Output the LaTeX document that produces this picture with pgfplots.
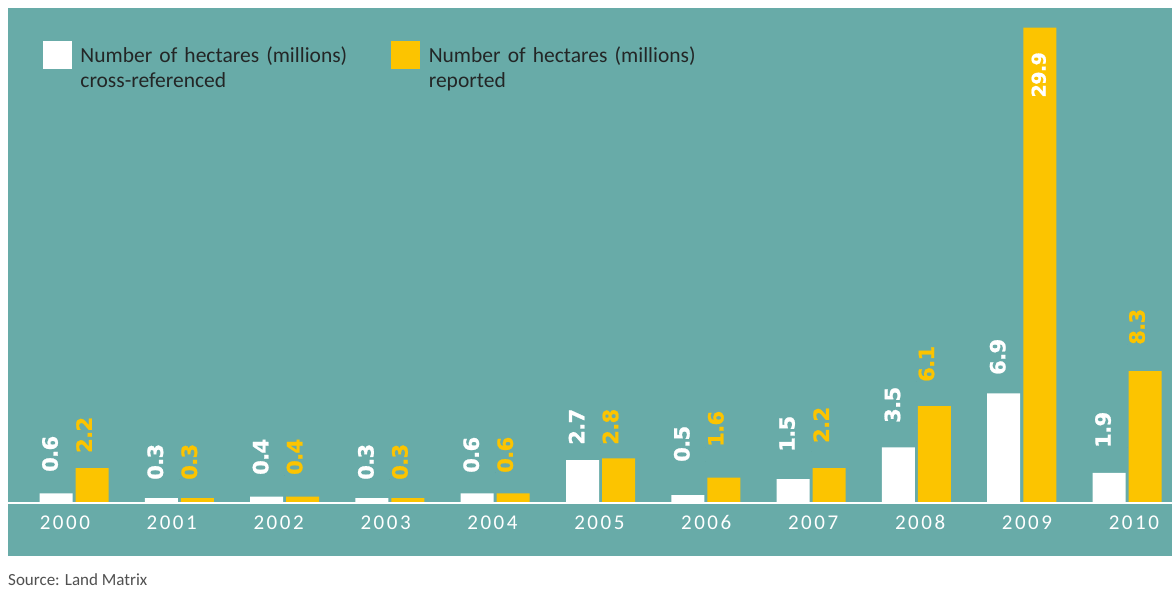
\documentclass[border=0pt]{standalone}
\usepackage{fontspec}
\setmainfont{Carlito}
\newfontfamily\valfont[LetterSpace=-3, FakeBold=1]{DejaVu Sans}
\newfontfamily\yearfont[LetterSpace=12]{Carlito}
\usepackage{pgfplots}
\pgfplotsset{compat=1.18}
\usepackage{pgfplotstable}
\definecolor{teal1}{RGB}{104,171,168}
\definecolor{gold}{RGB}{252,196,0}
\definecolor{legtext}{RGB}{35,38,38}
\definecolor{srcgray}{RGB}{80,80,80}

\pgfplotstableread{
idx w y
0 0.6 2.2
1 0.3 0.3
2 0.4 0.4
3 0.3 0.3
4 0.6 0.6
5 2.7 2.8
6 0.5 1.6
7 1.5 2.2
8 3.5 6.1
9 6.9 29.9
10 1.9 8.3
}\bars

\pgfplotstableread{
idx pos lbl
0 1.95 0.6
1 1.45 0.3
2 1.76 0.4
3 1.45 0.3
4 1.89 0.6
5 3.65 2.7
6 2.58 0.5
7 3.21 1.5
8 5.03 3.5
9 8.05 6.9
10 3.46 1.9
}\wlabels

\pgfplotstableread{
idx pos lbl
0 3.14 2.2
1 1.45 0.3
2 1.76 0.4
3 1.45 0.3
4 1.89 0.6
5 3.65 2.8
6 3.52 1.6
7 3.77 2.2
8 7.61 6.1
10 9.94 8.3
}\ylabels

\pgfplotstableread{
idx pos lbl
9 28.36 29.9
}\ylabelin

\begin{document}
\begin{tikzpicture}
\fill[white, use as bounding box] (0,0) rectangle (1172pt,590pt);
\begin{axis}[
  at={(8pt,34pt)}, anchor=south west,
  width=1164pt, height=548pt, scale only axis,
  xmin=-0.627, xmax=10.427, ymin=-3.333, ymax=31.13,
  axis background/.style={fill=teal1},
  axis line style={draw=none},
  ytick=\empty,
  xtick={-0.076,0.939,1.954,2.970,3.985,5.000,6.015,7.030,8.046,9.061,10.076},
  xticklabels={2000,2001,2002,2003,2004,2005,2006,2007,2008,2009,2010},
  major tick length=0pt,
  xticklabel style={anchor=center, yshift=33pt, xshift=-1.2pt, text=white,
    text height=13.3pt, text depth=0pt,
    font=\yearfont\fontsize{21}{22}\selectfont},
  clip=false,
  legend style={at={(0.03007,0.9398)}, anchor=north west, draw=none, fill=none,
    inner sep=0pt, outer sep=0pt, legend columns=2,
    font=\fontsize{21.5}{25}\selectfont, text=legtext,
    nodes={inner sep=0pt, text width=311pt, align=left},
    /tikz/every odd column/.append style={column sep=9pt},
    /tikz/every even column/.append style={column sep=0pt},
    cells={align=left}},
  legend cell align=left,
]
\addlegendimage{legend image code/.code={\fill[white] (0pt,-13pt) rectangle (28pt,14pt);}}
\addlegendentry{Number of hectares (millions)\\cross-referenced}
\addlegendimage{legend image code/.code={\fill[gold] (0pt,-13pt) rectangle (28pt,14pt);}}
\addlegendentry{Number of hectares (millions)\\reported}

\addplot[forget plot, ybar, bar width=0.3134, bar shift=-0.171, fill=white, draw=none]
  table[x=idx, y=w] {\bars};
\addplot[forget plot, ybar, bar width=0.3134, bar shift=0.171, fill=gold, draw=none]
  table[x=idx, y=y] {\bars};

\draw[white, line width=2.5pt] (axis cs:-0.627,0) -- (axis cs:10.427,0);

\addplot[forget plot, only marks, mark=*, mark size=0pt, mark options={draw=none, fill=none},
  point meta=explicit symbolic, nodes near coords,
  nodes near coords style={xshift=-24pt, rotate=90, anchor=west, inner sep=0pt,
    text=white, font=\valfont\bfseries\fontsize{21}{22}\selectfont}]
  table[x=idx, y=pos, meta=lbl] {\wlabels};
\addplot[forget plot, only marks, mark=*, mark size=0pt, mark options={draw=none, fill=none},
  point meta=explicit symbolic, nodes near coords,
  nodes near coords style={xshift=10pt, rotate=90, anchor=west, inner sep=0pt,
    text=gold, font=\valfont\bfseries\fontsize{21}{22}\selectfont}]
  table[x=idx, y=pos, meta=lbl] {\ylabels};
\addplot[forget plot, only marks, mark=*, mark size=0pt, mark options={draw=none, fill=none},
  point meta=explicit symbolic, nodes near coords,
  nodes near coords style={xshift=17pt, rotate=90, anchor=east, inner sep=0pt,
    text=white, font=\valfont\bfseries\fontsize{19}{21}\selectfont}]
  table[x=idx, y=pos, meta=lbl] {\ylabelin};
\end{axis}
\node[anchor=base west, inner sep=0pt, text=srcgray, font=\fontsize{17}{18}\selectfont]
  at (8pt,5pt) {Source: Land Matrix};
\end{tikzpicture}
\end{document}
